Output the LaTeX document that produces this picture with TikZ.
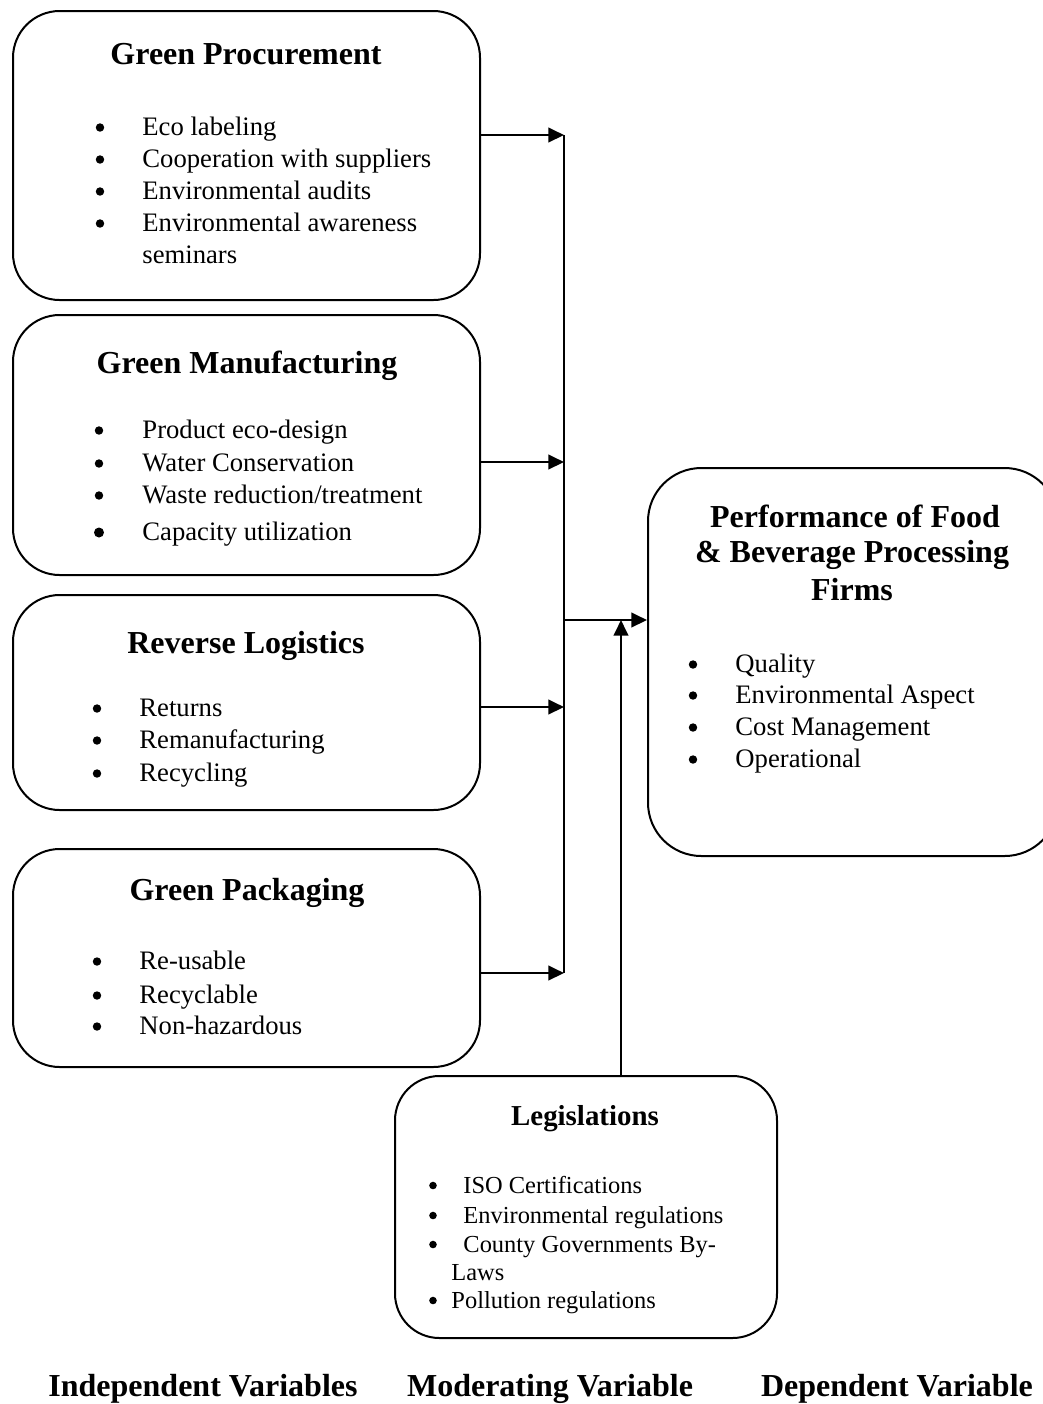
\documentclass[tikz,border=0pt]{standalone}
\usepackage{fontspec}
\setmainfont{Liberation Serif}
\usetikzlibrary{arrows.meta,fit}
% #1 name, #2 bullet x, #3 text x, #4 baseline, #5 text, #6 font size, #7 bullet size
\newcommand\bitem[7]{%
  \node[bul,minimum size=#7] (#1b) at (#2,#4-7.5) {};
  \node[txt,font=\fontsize{#6}{#6}\selectfont] (#1) at (#3,#4) {#5};}
\begin{document}
\begin{tikzpicture}[x=0.45pt,y=-0.45pt,
  box/.style={draw,line width=0.9pt,rounded corners=21pt,inner sep=0pt},
  ttl/.style={font=\fontsize{14.4}{16}\selectfont\bfseries,inner sep=0pt,anchor=base},
  txt/.style={inner sep=0pt,anchor=base west},
  bul/.style={circle,fill,inner sep=0pt},
  arr/.style={line width=1.1pt,-{Triangle[length=7pt,width=6.5pt]}},
  conn/.style={line width=1.1pt}]
\useasboundingbox (0,0) rectangle (1043,1404);

% boxes
\node[box,fit={(13,11) (480,300)}] (gp) {};
\node[box,fit={(13,315) (480,575)}] (gm) {};
\node[box,fit={(13,595) (480,810)}] (rl) {};
\node[box,fit={(13,849) (480,1067)}] (gk) {};
\node[box,rounded corners=24pt,fit={(648,468) (1058,856)}] (pf) {};
\node[box,rounded corners=20pt,fit={(395,1076) (777,1338)}] (lg) {};

% Green Procurement
\node[ttl] (gpt) at (246,64) {Green Procurement};
\bitem{gp1}{100}{142}{135}{Eco labeling}{12}{3.8pt}
\bitem{gp2}{100}{142}{167}{Cooperation with suppliers}{12}{3.8pt}
\bitem{gp3}{100}{142}{199}{Environmental audits}{12}{3.8pt}
\bitem{gp4}{100}{142}{231}{Environmental awareness}{12}{3.8pt}
\node[txt,font=\fontsize{12}{12}\selectfont] (gp5) at (142,263) {seminars};

% Green Manufacturing
\node[ttl] (gmt) at (247,373) {Green Manufacturing};
\bitem{gm1}{99}{142}{438}{Product eco-design}{12}{3.8pt}
\bitem{gm2}{99}{142}{471}{Water Conservation}{12}{3.8pt}
\bitem{gm3}{99}{142}{503}{Waste reduction/treatment}{12}{3.8pt}
\bitem{gm4}{99}{142}{540}{Capacity utilization}{12}{4.5pt}

% Reverse Logistics
\node[ttl] (rlt) at (246,653) {Reverse Logistics};
\bitem{rl1}{97}{139}{716}{Returns}{12}{3.8pt}
\bitem{rl2}{97}{139}{748}{Remanufacturing}{12}{3.8pt}
\bitem{rl3}{97}{139}{781}{Recycling}{12}{3.8pt}

% Green Packaging
\node[ttl] (gkt) at (247,900) {Green Packaging};
\bitem{gk1}{97}{139}{969}{Re-usable}{12}{3.8pt}
\bitem{gk2}{97}{139}{1003}{Recyclable}{12}{3.8pt}
\bitem{gk3}{97}{139}{1034}{Non-hazardous}{12}{3.8pt}

% Performance
\node[ttl] (pft1) at (855,527) {Performance of Food};
\node[ttl] (pft2) at (852,562) {\& Beverage Processing};
\node[ttl] (pft3) at (852,600) {Firms};
\bitem{pf1}{693}{735}{672}{Quality}{12}{3.8pt}
\bitem{pf2}{693}{735}{703}{Environmental Aspect}{12}{3.8pt}
\bitem{pf3}{693}{735}{735}{Cost Management}{12}{3.8pt}
\bitem{pf4}{693}{735}{767}{Operational}{12}{3.8pt}

% Legislations
\node[ttl,font=\fontsize{13}{15}\selectfont\bfseries] (lgt) at (585,1125) {Legislations};
\bitem{lg1}{433}{463}{1193}{ISO Certifications}{11}{3.4pt}
\bitem{lg2}{433}{463}{1223}{Environmental regulations}{11}{3.4pt}
\bitem{lg3}{433}{463}{1252}{County Governments By-}{11}{3.4pt}
\node[txt,font=\fontsize{11}{11}\selectfont] (lg3c) at (451,1280) {Laws};
\bitem{lg4}{433}{451}{1308}{Pollution regulations}{11}{3.4pt}

% connectors
\coordinate (j1) at (564,135);
\coordinate (j2) at (564,462);
\coordinate (j3) at (564,707);
\coordinate (j4) at (564,973);
\coordinate (jm) at (564,620);
\coordinate (la) at (621,620);
\draw[arr] (gp.east |- j1) -- (j1);
\draw[arr] (gm.east |- j2) -- (j2);
\draw[arr] (rl.east |- j3) -- (j3);
\draw[arr] (gk.east |- j4) -- (j4);
\draw[conn] (j1) -- (j4);
\draw[arr] (jm) -- (pf.west |- jm);
\draw[arr] (lg.north -| la) -- (la);

% bottom labels
\node[ttl] (iv) at (203,1396) {Independent Variables};
\node[ttl] (mv) at (550,1396) {Moderating Variable};
\node[ttl] (dv) at (897,1396) {Dependent Variable};
\end{tikzpicture}
\end{document}
